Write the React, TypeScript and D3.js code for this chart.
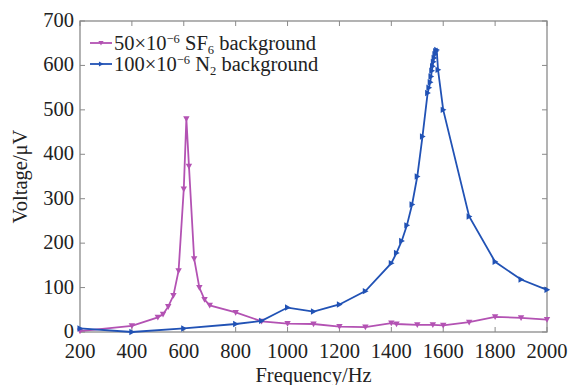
import React from "react";
import * as d3 from "d3";

const sf6Freq = [200, 400, 500, 520, 540, 560, 580, 600, 610, 620, 640, 660, 680, 700, 800, 900, 1000, 1100, 1200, 1300, 1400, 1420, 1500, 1560, 1600, 1700, 1800, 1900, 2000];
const sf6Volt = [2, 14, 33, 40, 57, 82, 138, 322, 480, 373, 165, 100, 73, 60, 44, 24, 19, 18, 12, 11, 20, 18, 16, 16, 15, 22, 34, 32, 28];

const n2Freq = [200, 400, 600, 800, 900, 1000, 1100, 1200, 1300, 1400, 1420, 1440, 1460, 1480, 1500, 1520, 1540, 1545, 1550, 1553, 1556, 1559, 1562, 1565, 1568, 1571, 1575, 1580, 1600, 1700, 1800, 1900, 2000];
const n2Volt = [8, 0, 8, 18, 25, 55, 46, 62, 92, 155, 178, 205, 240, 287, 350, 440, 538, 550, 562, 575, 588, 598, 608, 617, 625, 632, 635, 590, 500, 260, 158, 118, 95];

const xTicks = [200, 400, 600, 800, 1000, 1200, 1400, 1600, 1800, 2000];
const yTicks = [0, 100, 200, 300, 400, 500, 600, 700];

const PINK = "#b352b3";
const BLUE = "#2152b5";
const FONT = "'Liberation Serif', 'Times New Roman', serif";

export default function App() {
  const W = 570, H = 385;
  const m = { left: 80, right: 547, top: 21, bottom: 332 };
  const x = d3.scaleLinear().domain([200, 2000]).range([m.left, m.right]);
  const y = d3.scaleLinear().domain([0, 700]).range([m.bottom, m.top]);
  const line = d3.line<[number, number]>().x(d => x(d[0])).y(d => y(d[1]));
  const sf6 = sf6Freq.map((f, i) => [f, sf6Volt[i]] as [number, number]);
  const n2 = n2Freq.map((f, i) => [f, n2Volt[i]] as [number, number]);
  const tri = (cx: number, cy: number, s = 3.2) => `M${cx - s},${cy - s * 0.8}L${cx + s},${cy - s * 0.8}L${cx},${cy + s}Z`;
  const triR = (cx: number, cy: number, s = 3.2) => `M${cx - s * 0.8},${cy - s}L${cx - s * 0.8},${cy + s}L${cx + s},${cy}Z`;
  const axisColor = "#8a8a8a";
  const tl = 5;
  const fs = 20.5;
  return (
    <svg width={W} height={H} style={{ position: "absolute", left: 0, top: 0, background: "#fff" }} fontFamily={FONT}>
      <rect x={m.left} y={m.top} width={m.right - m.left} height={m.bottom - m.top} fill="none" stroke={axisColor} strokeWidth={1.3} />
      {xTicks.map(t => (
        <g key={"x" + t}>
          <line x1={x(t)} x2={x(t)} y1={m.bottom} y2={m.bottom - tl} stroke={axisColor} />
          <line x1={x(t)} x2={x(t)} y1={m.top} y2={m.top + tl} stroke={axisColor} />
          <text x={x(t)} y={m.bottom + 26} textAnchor="middle" fontSize={fs} fill="#222">{t}</text>
        </g>
      ))}
      {yTicks.map(t => (
        <g key={"y" + t}>
          <line x1={m.left} x2={m.left + tl} y1={y(t)} y2={y(t)} stroke={axisColor} />
          <line x1={m.right} x2={m.right - tl} y1={y(t)} y2={y(t)} stroke={axisColor} />
          <text x={m.left - 6} y={y(t) + 6} textAnchor="end" fontSize={fs} fill="#222">{t}</text>
        </g>
      ))}
      <path d={line(sf6) || ""} fill="none" stroke={PINK} strokeWidth={1.8} />
      {sf6.map((d, i) => <path key={"p" + i} d={tri(x(d[0]), y(d[1]))} fill={PINK} />)}
      <path d={line(n2) || ""} fill="none" stroke={BLUE} strokeWidth={1.8} />
      {n2.map((d, i) => <path key={"b" + i} d={triR(x(d[0]), y(d[1]))} fill={BLUE} />)}
      <g>
        <line x1={90} x2={112} y1={43} y2={43} stroke={PINK} strokeWidth={1.8} />
        <path d={tri(101, 43, 2.6)} fill={PINK} />
        <text x={114} y={50} fontSize={fs} fill="#222">
          50×10<tspan dy={-7} fontSize={12.5}>−6</tspan><tspan dy={7}> SF</tspan><tspan dy={4} fontSize={12.5}>6</tspan><tspan dy={-4}> background</tspan>
        </text>
        <line x1={90} x2={112} y1={64} y2={64} stroke={BLUE} strokeWidth={1.8} />
        <path d={triR(101, 64, 2.6)} fill={BLUE} />
        <text x={114} y={71} fontSize={fs} fill="#222">
          100×10<tspan dy={-7} fontSize={12.5}>−6</tspan><tspan dy={7}> N</tspan><tspan dy={4} fontSize={12.5}>2</tspan><tspan dy={-4}> background</tspan>
        </text>
      </g>
      <text x={(m.left + m.right) / 2} y={382} textAnchor="middle" fontSize={fs} fill="#222">Frequency/Hz</text>
      <text transform={`translate(27,${(m.top + m.bottom) / 2}) rotate(-90)`} textAnchor="middle" fontSize={fs} fill="#222">Voltage/μV</text>
    </svg>
  );
}
